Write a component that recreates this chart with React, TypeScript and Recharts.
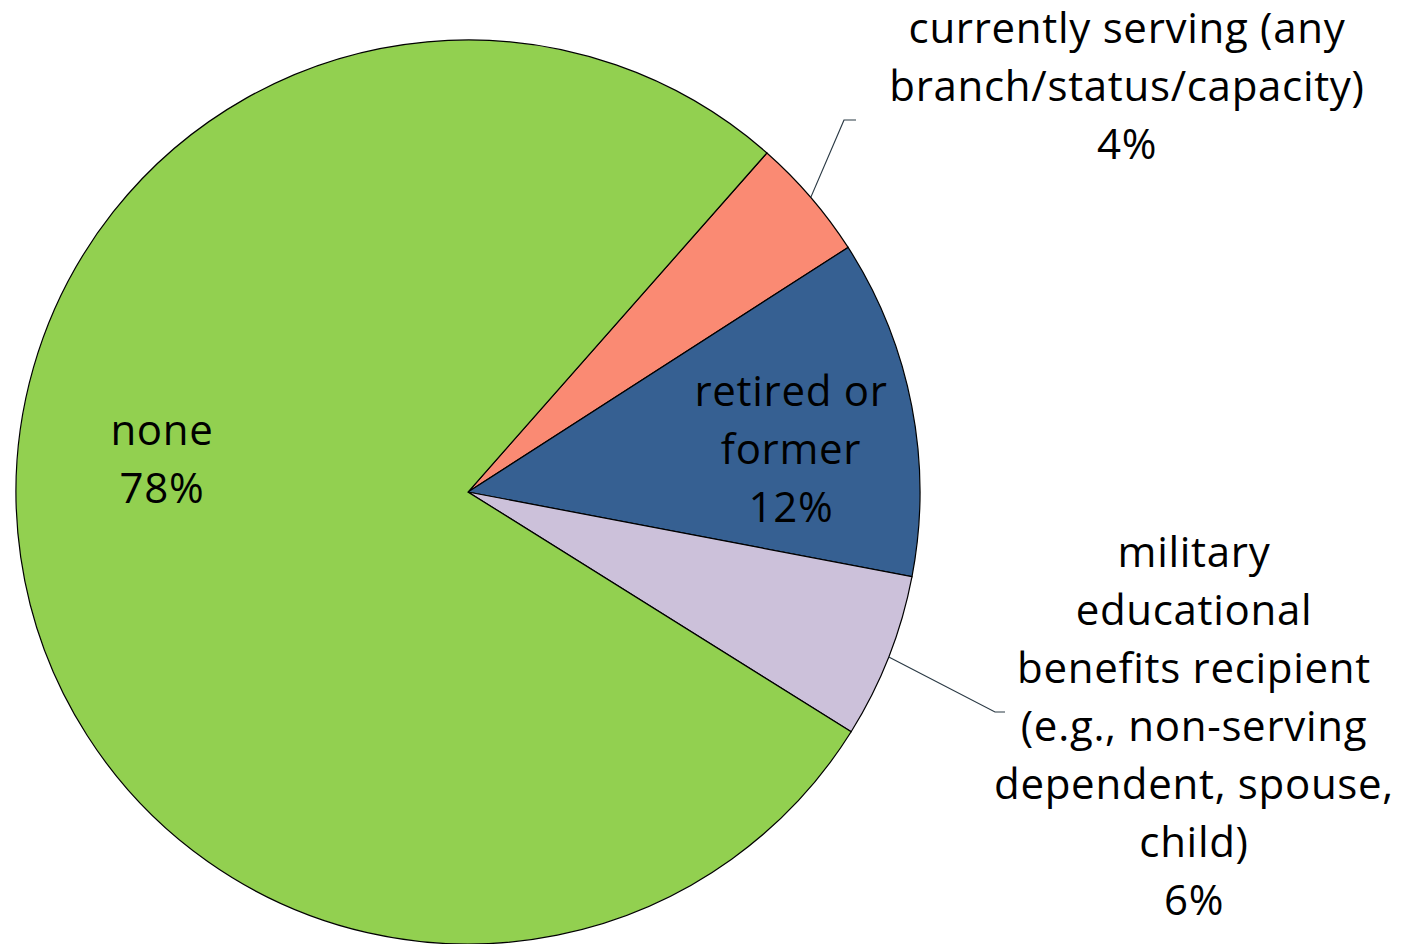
import React from 'react'
import { PieChart, Pie, Cell } from 'recharts'

// clockwise from the top-right slice
const names = ['serving', 'retired', 'military', 'none']
const labels = [
  ['currently serving (any', 'branch/status/capacity)'],
  ['retired or', 'former'],
  ['military', 'educational', 'benefits recipient', '(e.g., non-serving', 'dependent, spouse,', 'child)'],
  ['none'],
]
const shares = [4.4, 12.1, 5.9, 77.6]
const colors = ['#fa8a73', '#366092', '#ccc1da', '#92d050']

const data = names.map((n, i) => ({ name: n, value: shares[i], lines: labels[i] }))

const CX = 468
const CY = 492
const R = 452
const START = 48.6
const FONT = 42
const LH = 58

// text block offsets from the pie centre, plus leader elbow for outside labels
const layout: Record<string, { tx: number; ty: number; elbow?: [number, number]; tail?: number }> = {
  serving: { tx: 659, ty: -449, elbow: [376, -372], tail: 12 },
  retired: { tx: 323, ty: -86 },
  military: { tx: 726, ty: 75, elbow: [527, 220], tail: 10 },
  none: { tx: -306, ty: -47 },
}

const RAD = Math.PI / 180

const renderLabel = (props: any) => {
  const { cx, cy, midAngle, outerRadius, payload, value } = props
  const key = payload.name
  const cfg = layout[key]
  const lines: string[] = [...payload.lines, `${Math.round(value)}%`]
  const x = cx + cfg.tx
  const y0 = cy + cfg.ty
  let leader = null
  if (cfg.elbow) {
    const sx = cx + outerRadius * Math.cos(-midAngle * RAD)
    const sy = cy + outerRadius * Math.sin(-midAngle * RAD)
    const ex = cx + cfg.elbow[0]
    const ey = cy + cfg.elbow[1]
    leader = (
      <polyline
        points={`${sx},${sy} ${ex},${ey} ${ex + (cfg.tail || 0)},${ey}`}
        fill="none"
        stroke="#2b3a45"
        strokeWidth={1.2}
      />
    )
  }
  return (
    <g key={`lbl-${key}`}>
      {leader}
      <text
        x={x}
        y={y0}
        textAnchor="middle"
        fill="#000"
        fontSize={FONT}
        letterSpacing={0.7}
        fontFamily="'Open Sans', sans-serif"
      >
        {lines.map((l, i) => (
          <tspan key={i} x={x} y={y0 + i * LH}>
            {l}
          </tspan>
        ))}
      </text>
    </g>
  )
}

const App = () => {
  return (
    <div style={{ position: 'absolute', left: 0, top: 0, background: '#fff' }}>
      <PieChart width={1403} height={944} margin={{ top: 0, right: 0, bottom: 0, left: 0 }}>
        <Pie
          data={data}
          dataKey="value"
          cx={CX}
          cy={CY}
          outerRadius={R}
          startAngle={START}
          endAngle={START - 360}
          stroke="#000"
          strokeWidth={1.2}
          label={renderLabel}
          labelLine={false}
          isAnimationActive={false}
        >
          {data.map((d, i) => (
            <Cell key={d.name} fill={colors[i]} />
          ))}
        </Pie>
      </PieChart>
    </div>
  )
}

export default App
